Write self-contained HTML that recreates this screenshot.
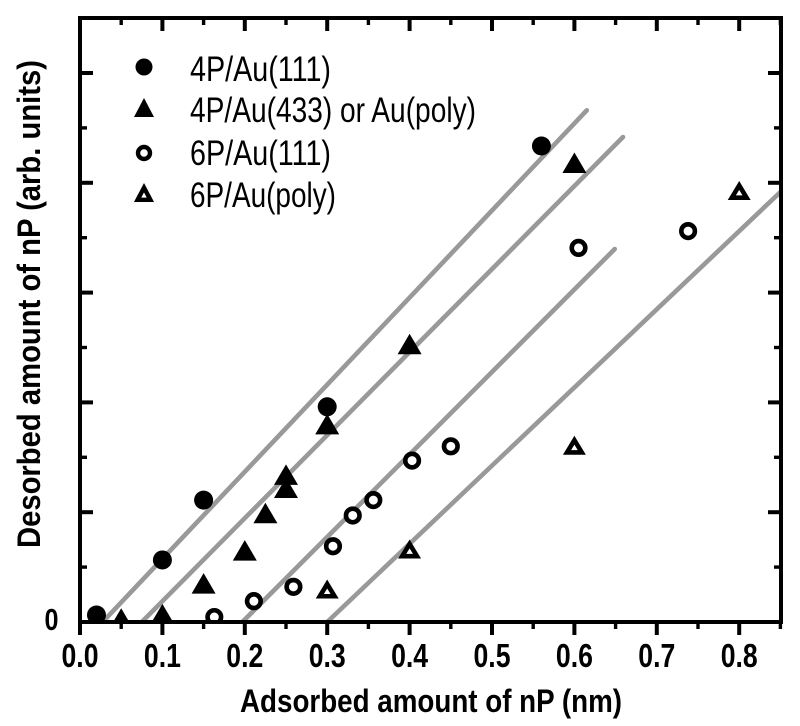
<!DOCTYPE html>
<html>
<head>
<meta charset="utf-8">
<style>
html,body{margin:0;padding:0;background:#fff;}
svg{display:block;}
text{font-family:"Liberation Sans",sans-serif;fill:#000;}
</style>
</head>
<body>
<svg id="chart" xmlns="http://www.w3.org/2000/svg" width="800" height="726" viewBox="0 0 800 726">
<defs><clipPath id="plot-clip"><rect x="80" y="18" width="701" height="604"/></clipPath></defs>
<rect width="800" height="726" fill="#fff"/>
<g id="fits" clip-path="url(#plot-clip)"></g>
<g id="marks" clip-path="url(#plot-clip)"></g>
<g id="axes"></g>
<text x="240" y="712" font-size="32" font-weight="bold" textLength="382" lengthAdjust="spacingAndGlyphs">Adsorbed amount of nP (nm)</text>
<text transform="translate(40,548) rotate(-90)" font-size="32" font-weight="bold" textLength="488" lengthAdjust="spacingAndGlyphs">Desorbed amount of nP (arb. units)</text>
<g>
<circle cx="144" cy="67" r="8.5" fill="#000"/>
<polygon points="144,98 154,117 134,117" fill="#000"/>
<circle cx="144" cy="153" r="6" fill="#fff" stroke="#000" stroke-width="4.4"/>
<polygon points="144,187.7 150.4,199.8 137.6,199.8" fill="#fff" stroke="#000" stroke-width="4.4"/>
<text x="190" y="81" font-size="35" textLength="141" lengthAdjust="spacingAndGlyphs">4P/Au(111)</text>
<text x="190" y="122" font-size="35" textLength="286" lengthAdjust="spacingAndGlyphs">4P/Au(433) or Au(poly)</text>
<text x="190" y="165" font-size="35" textLength="141" lengthAdjust="spacingAndGlyphs">6P/Au(111)</text>
<text x="190" y="207" font-size="35" textLength="146" lengthAdjust="spacingAndGlyphs">6P/Au(poly)</text>
</g>
</svg>
<script>
// Chart data
const xTickLabels = ['0.0','0.1','0.2','0.3','0.4','0.5','0.6','0.7','0.8'];
const xMajorTicks = [0,0.1,0.2,0.3,0.4,0.5,0.6,0.7,0.8];
const xMinorTicks = [0.05,0.15,0.25,0.35,0.45,0.55,0.65,0.75,0.85];
const yMajorTicks = [1,2,3,4,5];
const yMinorTicks = [0.5,1.5,2.5,3.5,4.5];
const yTickLabels = ['0'];

const filledCircleX = [0.02,0.1,0.15,0.3,0.56];
const filledCircleY = [0.064,0.565,1.11,1.96,4.335];
const filledTriangleX = [0.05,0.1,0.15,0.2,0.225,0.25,0.25,0.3,0.4,0.6];
const filledTriangleY = [0.03,0.07,0.35,0.65,0.99,1.22,1.34,1.80,2.53,4.18];
const openCircleX = [0.163,0.211,0.259,0.307,0.331,0.356,0.403,0.45,0.605,0.738];
const openCircleY = [0.045,0.19,0.32,0.69,0.97,1.11,1.47,1.60,3.407,3.56];
const openTriangleX = [0.3,0.4,0.6,0.8];
const openTriangleY = [0.30,0.665,1.61,3.93];

const fitStartX = [0.030,0.075,0.197,0.300];
const fitStartY = [0.02,0,0,0];
const fitEndX = [0.615,0.659,0.649,0.850];
const fitEndY = [4.66,4.417,3.397,3.916];

// Axis functions
function xScale(v){ return 80 + 824 * v; }
function yScale(v){ return 622 - 109.8 * v; }

const NS = 'http://www.w3.org/2000/svg';
function make(tag, parent, attrs){
  const el = document.createElementNS(NS, tag);
  for (const k in attrs) el.setAttribute(k, attrs[k]);
  parent.appendChild(el);
  return el;
}
const fits = document.getElementById('fits');
const marks = document.getElementById('marks');
const axes = document.getElementById('axes');

fitStartX.forEach(function(_, i){
  const el = make('line', fits, {x1:xScale(fitStartX[i]), y1:yScale(fitStartY[i]), x2:xScale(fitEndX[i]), y2:yScale(fitEndY[i]), stroke:'#999', 'stroke-width':4.6, 'stroke-linecap':'round'});
  
  
});

filledCircleX.forEach(function(_, i){
  const el = make('circle', marks, {cx:xScale(filledCircleX[i]), cy:yScale(filledCircleY[i]), r:9.5, fill:'#000'});
  
  
});
filledTriangleX.forEach(function(_, i){
  const cx = xScale(filledTriangleX[i]), cy = yScale(filledTriangleY[i]);
  const el = make('polygon', marks, {points:cx+','+(cy-10.5)+' '+(cx+12)+','+(cy+10)+' '+(cx-12)+','+(cy+10), fill:'#000'});
  
  
});
openCircleX.forEach(function(_, i){
  const el = make('circle', marks, {cx:xScale(openCircleX[i]), cy:yScale(openCircleY[i]), r:6.8, fill:'#fff', stroke:'#000', 'stroke-width':4.6});
  
  
});
openTriangleX.forEach(function(_, i){
  const cx = xScale(openTriangleX[i]), cy = yScale(openTriangleY[i]);
  const el = make('polygon', marks, {points:cx+','+(cy-5.05)+' '+(cx+7.4)+','+(cy+7.2)+' '+(cx-7.4)+','+(cy+7.2), fill:'#fff', stroke:'#000', 'stroke-width':4.6});
  
  
});

// Frame
const frame = make('rect', axes, {x:80, y:18, width:701, height:604, fill:'none', stroke:'#000', 'stroke-width':4});



function tick(x1, y1, x2, y2, w){
  const el = make('line', axes, {x1:x1, y1:y1, x2:x2, y2:y2, stroke:'#000', 'stroke-width':w});
  
  
}
xMajorTicks.forEach(function(v){
  const x = xScale(v);
  tick(x, 622, x, 635, 4);
  if (v > 0) tick(x, 18, x, 31, 4);
});
xMinorTicks.forEach(function(v){
  const x = xScale(v);
  tick(x, 622, x, 629, 3.4);
  tick(x, 18, x, 25, 3.4);
});
yMajorTicks.forEach(function(v){
  const y = yScale(v);
  tick(80, y, 93, y, 4);
  tick(781, y, 768, y, 4);
});
yMinorTicks.forEach(function(v){
  const y = yScale(v);
  tick(80, y, 87, y, 3.4);
  tick(781, y, 774, y, 3.4);
});

xTickLabels.forEach(function(label, i){
  const x = xScale(xMajorTicks[i]);
  const el = make('text', axes, {x:x-18.5, y:667, 'font-size':33, 'font-weight':'bold', textLength:37, lengthAdjust:'spacingAndGlyphs'});
  el.textContent = label;
  
  
});
yTickLabels.forEach(function(label){
  const el = make('text', axes, {x:44.5, y:630, 'font-size':31, 'font-weight':'bold', textLength:14, lengthAdjust:'spacingAndGlyphs'});
  el.textContent = label;
  
  
});
</script>
</body>
</html>
